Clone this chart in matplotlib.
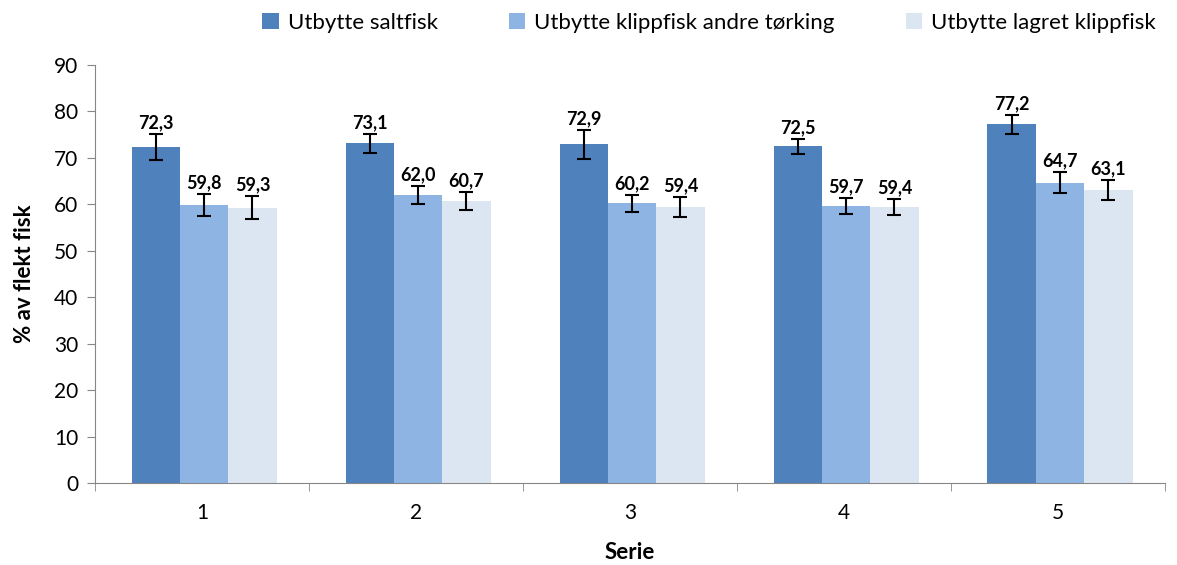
import matplotlib.pyplot as plt
import numpy as np
from matplotlib.ticker import FixedLocator

# data
series = ['1', '2', '3', '4', '5']
labels = ['Utbytte saltfisk', 'Utbytte klippfisk andre tørking', 'Utbytte lagret klippfisk']
saltfisk = [72.3, 73.1, 72.9, 72.5, 77.2]
klipp_andre = [59.8, 62.0, 60.2, 59.7, 64.7]
klipp_lagret = [59.3, 60.7, 59.4, 59.4, 63.1]
err_saltfisk = [2.8, 2.0, 3.1, 1.6, 2.0]
err_andre = [2.4, 2.0, 1.9, 1.7, 2.2]
err_lagret = [2.4, 2.0, 2.2, 1.7, 2.1]

colors = ['#4F81BD', '#8EB4E3', '#DCE6F2']
plt.rcParams['font.family'] = ['Lato', 'DejaVu Sans']

fig = plt.figure(figsize=(11.77, 5.65), dpi=100)
ax = fig.add_axes([0.0807, 0.145, 0.909, 0.74])

x = np.arange(len(series))
w = 0.226
data = [saltfisk, klipp_andre, klipp_lagret]
errs = [err_saltfisk, err_andre, err_lagret]
for i in range(3):
    pos = x + (i - 1) * w + 0.01
    ax.bar(pos, data[i], w, color=colors[i], label=labels[i], zorder=2)
    ax.errorbar(pos, data[i], yerr=errs[i], fmt='none', ecolor='black',
                elinewidth=1.5, capsize=5, capthick=1.5, zorder=3)
    for p, v, e in zip(pos, data[i], errs[i]):
        ax.text(p, v + e + 0.6, ('%.1f' % v).replace('.', ','), ha='center',
                va='bottom', fontsize=13, fontweight='bold')

ax.set_xlim(-0.5, 4.5)
ax.set_ylim(0, 90)
ax.set_yticks(range(0, 91, 10))
ax.set_xticks(x)
ax.set_xticklabels(series)
ax.xaxis.set_minor_locator(FixedLocator(np.arange(-0.5, 5, 1)))
ax.tick_params(axis='x', which='major', length=0, labelsize=15, pad=14)
ax.tick_params(axis='x', which='minor', length=6, color='#868686')
ax.tick_params(axis='y', length=6, color='#868686', labelsize=15, pad=6)
for s in ['top', 'right']:
    ax.spines[s].set_visible(False)
for s in ['left', 'bottom']:
    ax.spines[s].set_color('#868686')

ax.set_ylabel('% av flekt fisk', fontsize=16, fontweight='bold', labelpad=14)
ax.set_xlabel('Serie', fontsize=16, fontweight='bold', labelpad=14)

ax.legend(loc='lower right', bbox_to_anchor=(1.0, 1.055), ncol=3, frameon=False,
          fontsize=16, handlelength=0.75, handleheight=0.75, handletextpad=0.4,
          columnspacing=3.2, borderaxespad=0)

fig.savefig('out.png', dpi=100)
